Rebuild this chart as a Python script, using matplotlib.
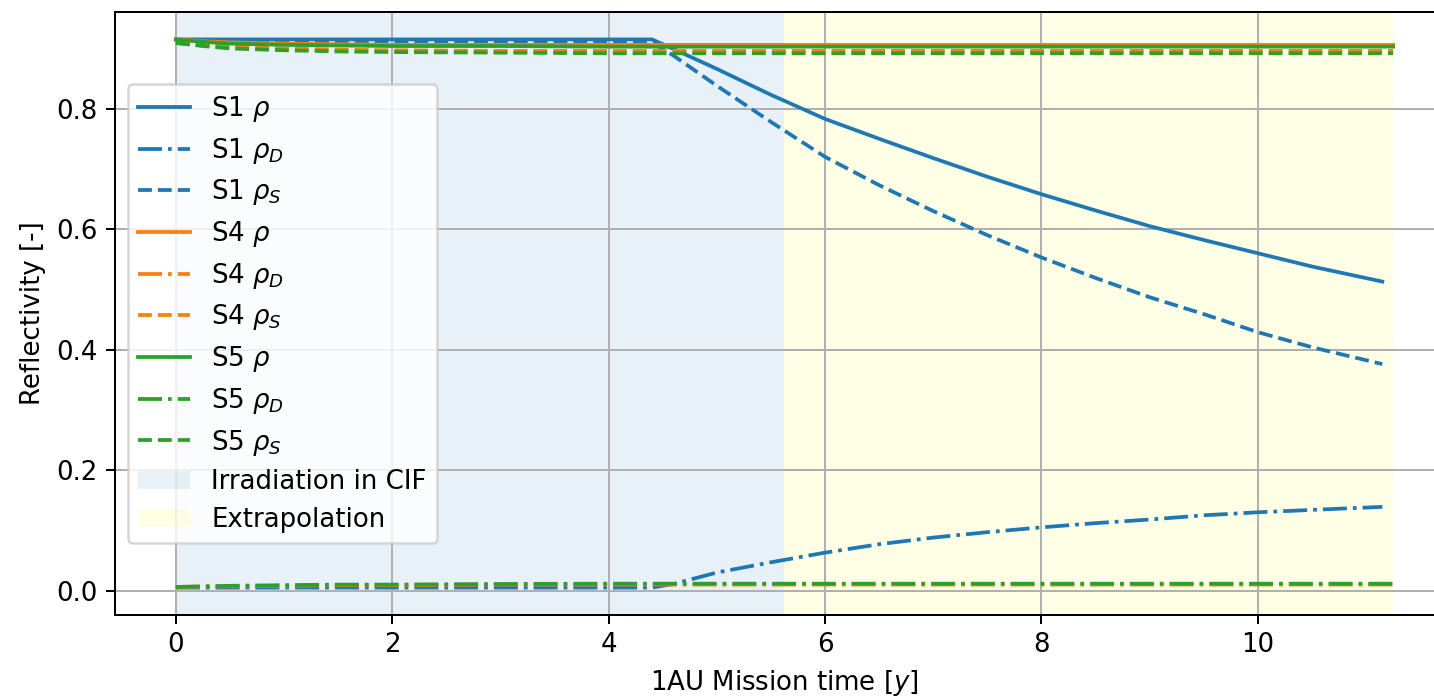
import matplotlib.pyplot as plt

# Tiempos (años de misión a 1AU)
t_s1 = [0, 1, 2, 3, 4, 4.4, 4.6, 5.0, 5.5, 6.0, 6.5, 7.0, 7.5, 8.0, 8.5, 9.0, 9.5, 10.0, 10.5, 11.15]
t_s45 = [0, 0.25, 0.5, 1, 1.5, 2, 3, 4, 5, 6, 8, 10, 11.25]

# S1
s1_rho = [0.915, 0.915, 0.915, 0.915, 0.915, 0.915, 0.899, 0.866, 0.823, 0.783,
          0.750, 0.718, 0.687, 0.658, 0.631, 0.605, 0.582, 0.560, 0.538, 0.513]
s1_rho_d = [0.005, 0.005, 0.005, 0.005, 0.005, 0.005, 0.011, 0.030, 0.047, 0.063,
            0.077, 0.088, 0.097, 0.105, 0.112, 0.118, 0.125, 0.130, 0.134, 0.139]
s1_rho_s = [0.910, 0.910, 0.910, 0.910, 0.910, 0.910, 0.888, 0.838, 0.778, 0.720,
            0.673, 0.630, 0.590, 0.553, 0.519, 0.487, 0.459, 0.429, 0.404, 0.376]

# S4
s4_rho = [0.915, 0.912, 0.910, 0.908, 0.907, 0.906, 0.906, 0.906, 0.906, 0.906, 0.906, 0.906, 0.906]
s4_rho_d = [0.006, 0.007, 0.007, 0.008, 0.009, 0.009, 0.010, 0.010, 0.010, 0.010, 0.010, 0.010, 0.010]
s4_rho_s = [0.909, 0.905, 0.903, 0.900, 0.898, 0.897, 0.896, 0.896, 0.896, 0.896, 0.896, 0.896, 0.896]

# S5
s5_rho = [0.915, 0.911, 0.908, 0.906, 0.905, 0.904, 0.904, 0.903, 0.903, 0.903, 0.903, 0.903, 0.903]
s5_rho_d = [0.006, 0.007, 0.008, 0.009, 0.010, 0.010, 0.011, 0.0115, 0.0115, 0.0115, 0.0115, 0.0115, 0.0115]
s5_rho_s = [0.909, 0.904, 0.900, 0.897, 0.895, 0.894, 0.893, 0.892, 0.892, 0.892, 0.892, 0.892, 0.892]

# Zonas
irr_end = 5.62
extra_end = 11.25

plt.rcParams['font.size'] = 10.4

fig = plt.figure(figsize=(1434 / 180, 700 / 180), dpi=180)
ax = fig.add_axes([115 / 1434, 85 / 700, 1339 / 1434, 603 / 700])

series = [
    ('S1', 'C0', t_s1, s1_rho, s1_rho_d, s1_rho_s),
    ('S4', 'C1', t_s45, s4_rho, s4_rho_d, s4_rho_s),
    ('S5', 'C2', t_s45, s5_rho, s5_rho_d, s5_rho_s),
]

for name, col, t, rho, rho_d, rho_s in series:
    ax.plot(t, rho, '-', color=col, label=name + r' $\rho$')
    ax.plot(t, rho_d, '-.', color=col, label=name + r' $\rho_D$')
    ax.plot(t, rho_s, '--', color=col, label=name + r' $\rho_S$')

ax.axvspan(0, irr_end, color='C0', alpha=0.1, lw=0, zorder=0, label='Irradiation in CIF')
ax.axvspan(irr_end, extra_end, color='yellow', alpha=0.1, lw=0, zorder=0, label='Extrapolation')

ax.set_xlabel(r'1AU Mission time [$y$]')
ax.set_ylabel('Reflectivity [-]')
ax.grid(True)
ax.spines['right'].set_visible(False)
ax.legend(loc='center left', labelspacing=0.45)

fig.savefig('out.png', dpi=180)
